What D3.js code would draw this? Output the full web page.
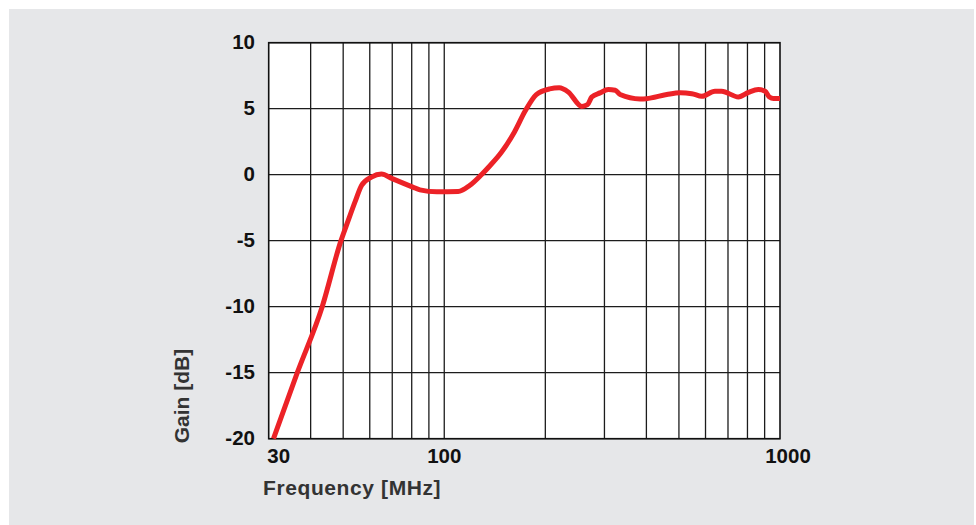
<!DOCTYPE html>
<html>
<head>
<meta charset="utf-8">
<script src="https://cdn.jsdelivr.net/npm/d3@7"></script>
<style>
  html, body { margin: 0; padding: 0; background: #fff; }
  svg { display: block; }
  .tick-label { font-family: "Liberation Sans", Arial, sans-serif; font-weight: bold; font-size: 20.5px; fill: #111; }
  .axis-title { font-family: "Liberation Sans", Arial, sans-serif; font-weight: bold; font-size: 21px; fill: #333; }
</style>
</head>
<body>
<svg id="chart"></svg>
<script>
// Data (frequency in MHz, gain in dB)
const freqs = [31, 36.5, 43.3, 49.2, 51.7, 54.4, 56.7, 60.7, 65, 70, 80.6, 84.6, 95, 110, 119, 129, 137,
  148, 162, 174, 188, 206, 220, 234, 257, 267, 275, 291, 308, 323, 334, 383, 400, 460, 504, 546, 585, 640, 670,
  752, 806, 862, 903, 930, 957, 1000];
const gains = [-20, -15, -10, -5.03, -3.5, -1.97, -0.82, -0.18, 0.05, -0.3, -0.94, -1.15, -1.3, -1.28, -0.82, 0, 0.7,
  1.7, 3.26, 4.8, 6.07, 6.5, 6.58, 6.27, 5.17, 5.3, 5.88, 6.2, 6.45, 6.4, 6.07, 5.74, 5.76, 6.07, 6.2, 6.14, 5.94, 6.32, 6.32,
  5.89, 6.24, 6.45, 6.32, 5.89, 5.78, 5.78];
const gridFreqs = [40, 50, 60, 70, 80, 90, 100, 200, 300, 400, 500, 600, 700, 800, 900];
const xTickLabels = [30, 100, 1000];
const yTicks = [10, 5, 0, -5, -10, -15, -20];

const W = 976, H = 525;
const plot = { left: 268.7, right: 780, top: 42.7, bottom: 438.7 };

const svg = d3.select("#chart").attr("width", W).attr("height", H);

// Background panel
svg.append("rect").attr("x", 9).attr("y", 9).attr("width", W - 11).attr("height", H - 9).attr("fill", "#e6e7e9");
svg.append("rect")
  .attr("x", plot.left).attr("y", plot.top)
  .attr("width", plot.right - plot.left).attr("height", plot.bottom - plot.top)
  .attr("fill", "#fff");

const x = d3.scaleLog().domain([30, 1000]).range([plot.left, plot.right]);
const y = d3.scaleLinear().domain([-20, 10]).range([plot.bottom, plot.top]);

// Grid
const grid = svg.append("g").attr("stroke", "#1c1c1c").attr("stroke-width", 1.3);
grid.selectAll("line.v").data(gridFreqs).enter().append("line")
  .attr("x1", d => x(d)).attr("x2", d => x(d))
  .attr("y1", plot.top).attr("y2", plot.bottom);
grid.selectAll("line.h").data(yTicks).enter().append("line")
  .attr("x1", plot.left).attr("x2", plot.right)
  .attr("y1", d => y(d)).attr("y2", d => y(d));

// Frame
svg.append("rect")
  .attr("x", plot.left).attr("y", plot.top)
  .attr("width", plot.right - plot.left).attr("height", plot.bottom - plot.top)
  .attr("fill", "none").attr("stroke", "#111").attr("stroke-width", 1.6);

// Curve
const data = freqs.map((f, i) => ({ f, g: gains[i] }));
svg.append("path")
  .datum(data)
  .attr("fill", "none")
  .attr("stroke", "#ec2227")
  .attr("stroke-width", 5)
  .attr("stroke-linejoin", "round")
  .attr("stroke-linecap", "butt")
  .attr("d", d3.line().x(d => x(d.f)).y(d => y(d.g)).curve(d3.curveMonotoneX));

// Y tick labels
svg.selectAll("text.ytick").data(yTicks).enter().append("text")
  .attr("class", "tick-label")
  .attr("x", 255).attr("y", d => y(d) - 1)
  .attr("text-anchor", "end")
  .attr("dominant-baseline", "central")
  .text(d => d);

// X tick labels (30 and 1000 sit a little right of their gridline in the original)
const xShift = d => d === 30 ? 10 : d === 1000 ? 8 : 0;
svg.selectAll("text.xtick").data(xTickLabels).enter().append("text")
  .attr("class", "tick-label")
  .attr("x", d => x(d) + xShift(d)).attr("y", 463)
  .attr("text-anchor", "middle")
  .text(d => d);

// Axis titles
svg.append("text").attr("class", "axis-title")
  .attr("x", 263).attr("y", 495)
  .attr("letter-spacing", "0.6px")
  .text("Frequency [MHz]");

svg.append("text").attr("class", "axis-title")
  .attr("transform", "translate(189,396) rotate(-90)")
  .attr("text-anchor", "middle")
  .text("Gain [dB]");
</script>
</body>
</html>
